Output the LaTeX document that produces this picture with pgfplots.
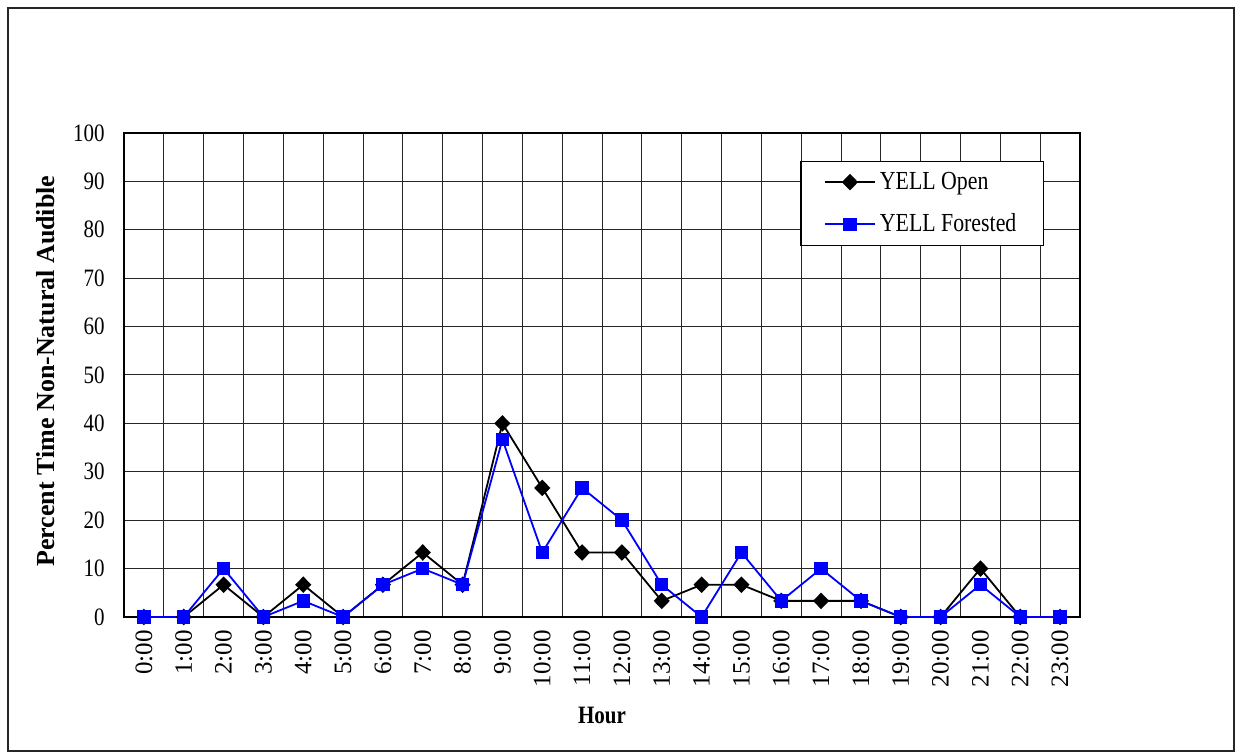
\documentclass[border=0pt]{standalone}
\usepackage{fontspec}
\setmainfont[FakeStretch=0.84]{Liberation Serif}
\newfontfamily\rotfont{Liberation Serif}
\usepackage{pgfplots}
\usepackage{pgfplotstable}
\pgfplotsset{compat=1.18}
\definecolor{serblue}{RGB}{0,0,255}
\pgfplotstableread{
h v
0 0
1 0
2 6.67
3 0
4 6.67
5 0
6 6.67
7 13.33
8 6.67
9 40
10 26.67
11 13.33
12 13.33
13 3.33
14 6.67
15 6.67
16 3.33
17 3.33
18 3.33
19 0
20 0
21 10
22 0
23 0
}\openT
\pgfplotstableread{
h v
0 0
1 0
2 10
3 0
4 3.33
5 0
6 6.67
7 10
8 6.67
9 36.67
10 13.33
11 26.67
12 20
13 6.67
14 0
15 13.33
16 3.33
17 10
18 3.33
19 0
20 0
21 6.67
22 0
23 0
}\forT
\begin{document}
\begin{tikzpicture}
\useasboundingbox (0,0) rectangle (618pt,377pt);
\draw[line width=0.8pt, black!85] (4pt,1.5pt) rectangle (617pt,373pt);
\begin{axis}[
  at={(62pt,68.5pt)}, anchor=south west,
  scale only axis, width=478pt, height=242pt,
  xmin=-0.5, xmax=23.5, ymin=0, ymax=100,
  xtick={0,...,23},
  xticklabels={0:00,1:00,2:00,3:00,4:00,5:00,6:00,7:00,8:00,9:00,10:00,11:00,12:00,13:00,14:00,15:00,16:00,17:00,18:00,19:00,20:00,21:00,22:00,23:00},
  minor xtick={-0.5,0.5,...,23.5},
  ytick={0,10,...,100},
  xminorgrids, ymajorgrids,
  major tick length=0pt, minor tick length=0pt,
  grid style={black!85, line width=0.5pt},
  minor grid style={black!85, line width=0.5pt},
  axis line style={line width=0.9pt},
  clip=false,
  /pgf/number format/assume math mode=true,
  yticklabel style={font=\fontsize{12.5}{15}\selectfont, anchor=east, inner sep=0pt},
  yticklabel shift=9.5pt,
  xticklabel style={rotate=90, anchor=east, inner sep=0pt, font=\rotfont\fontsize{12.5}{15}\selectfont},
  xticklabel shift=6.5pt,
  xlabel={Hour},
  xlabel style={at={(axis description cs:0.5,-0.2025)}, anchor=center, inner sep=0pt, font=\bfseries\fontsize{12.5}{15}\selectfont},
  ylabel={Percent Time Non-Natural Audible},
  ylabel style={at={(axis description cs:-0.0816,0.103)}, anchor=west, inner sep=0pt, font=\rotfont\bfseries\fontsize{13}{15}\selectfont},
  legend style={at={(0.9623,0.9421)}, anchor=north east, draw=black, line width=0.6pt,
    font=\fontsize{13}{15}\selectfont, inner xsep=11.5pt, inner ysep=3.2pt, row sep=6.8pt,
    nodes={inner sep=2pt}},
  legend cell align=left,
  legend image code/.code={\draw[mark repeat=2,mark phase=2,#1] plot coordinates {(0pt,0pt)(12.5pt,0pt)(25pt,0pt)};},
]
\addplot[black, line width=0.9pt, mark=diamond*, mark size=3.5pt, mark options={xscale=1.3, solid}] table[x=h,y=v] {\openT};
\addlegendentry{YELL Open}
\addplot[serblue, line width=0.9pt, mark=square*, mark size=2.9pt, mark options={solid}] table[x=h,y=v] {\forT};
\addlegendentry{YELL Forested}
\end{axis}
\end{tikzpicture}
\end{document}
